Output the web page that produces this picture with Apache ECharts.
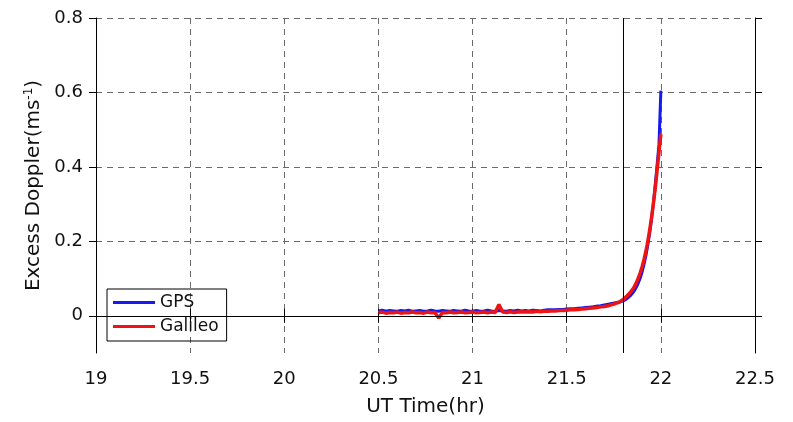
<!DOCTYPE html>
<html><head><meta charset="utf-8">
<script src="https://cdn.jsdelivr.net/npm/echarts@6/dist/echarts.min.js"></script>
<style>html,body{margin:0;padding:0;background:#fff}#c{width:793px;height:422px}</style>
</head><body><div id="c"></div>
<script>
// time (UT hours)
const timeHr = [
 20.50,20.52,20.54,20.56,20.58,20.60,20.62,20.64,20.66,20.68,
 20.70,20.72,20.74,20.76,20.78,20.80,20.82,20.84,20.86,20.88,
 20.90,20.92,20.94,20.96,20.98,21.00,21.02,21.04,21.06,21.08,
 21.10,21.12,21.14,21.16,21.18,21.20,21.22,21.24,21.26,21.28,
 21.30,21.32,21.34,21.36,21.38,21.40,
 21.42,21.44,21.46,21.48,21.50,21.52,21.54,21.56,21.58,21.60,
 21.62,21.64,21.66,21.68,21.70,
 21.72,21.73,21.74,21.75,21.76,21.77,21.78,21.79,21.80,21.81,
 21.82,21.83,21.84,21.85,21.86,21.87,21.88,21.89,21.90,21.91,
 21.92,21.93,21.94,21.95,21.96,21.97,21.98,21.99,22.00
];
const gpsDoppler = [
 0.013,0.015,0.012,0.014,0.013,0.012,0.014,0.013,0.015,0.012,
 0.013,0.014,0.012,0.013,0.015,0.013,0.012,0.014,0.013,0.012,
 0.014,0.013,0.012,0.015,0.013,0.012,0.014,0.012,0.013,0.015,
 0.013,0.012,0.014,0.013,0.012,0.014,0.013,0.015,0.013,0.014,
 0.013,0.015,0.014,0.013,0.015,0.016,
 0.016,0.016,0.017,0.017,0.018,0.019,0.019,0.020,0.021,0.022,
 0.023,0.024,0.026,0.027,0.029,
 0.031,0.032,0.033,0.034,0.035,0.036,0.037,0.039,0.040,0.043,
 0.046,0.050,0.055,0.061,0.068,0.077,0.088,0.101,0.117,0.137,
 0.160,0.188,0.220,0.258,0.300,0.350,0.405,0.460,0.605
];
const galileoDoppler = [
 0.008,0.010,0.007,0.009,0.008,0.010,0.007,0.009,0.008,0.010,
 0.008,0.009,0.007,0.010,0.008,0.009,-0.006,0.009,0.008,0.010,
 0.008,0.009,0.010,0.008,0.009,0.010,0.008,0.009,0.010,0.008,
 0.010,0.009,0.030,0.010,0.009,0.011,0.009,0.010,0.011,0.010,
 0.011,0.010,0.012,0.011,0.012,0.012,
 0.013,0.013,0.014,0.014,0.015,0.016,0.016,0.017,0.018,0.019,
 0.020,0.021,0.022,0.024,0.025,
 0.027,0.028,0.030,0.031,0.033,0.035,0.037,0.040,0.044,0.048,
 0.053,0.058,0.064,0.071,0.079,0.089,0.101,0.115,0.131,0.150,
 0.172,0.198,0.228,0.262,0.300,0.342,0.390,0.440,0.488
];
const xTicks = [19, 22.5, 0.5];        // min, max, interval
const yRange = [-0.1, 0.8];
const yTickValues = [0, 0.2, 0.4, 0.6, 0.8];
const refLines = { y: 0, x: 21.8 };

const font = '"DejaVu Sans", "Liberation Sans", Arial, sans-serif';
const pair = (xs, ys) => xs.map((x, i) => [x, ys[i]]);

const chart = echarts.init(document.getElementById('c'), null, {renderer: 'canvas'});
const gridDash = {color: '#6a6a6a', type: [6, 5], width: 1};
const tickStyle = {show: true, inside: false, length: 7, lineStyle: {color: '#000'}};
chart.setOption({
  animation: false,
  backgroundColor: '#fff',
  grid: {left: 96, right: 38, top: 18, bottom: 69},
  legend: {
    orient: 'vertical', left: 107, top: 289,
    borderColor: '#000', borderWidth: 1, padding: [5, 8, 6, 6],
    icon: 'rect', itemWidth: 42, itemHeight: 3, itemGap: 7,
    textStyle: {fontFamily: font, fontSize: 17, color: '#111'},
    data: ['GPS', 'Galileo']
  },
  xAxis: [{
    type: 'value', min: xTicks[0], max: xTicks[1], interval: xTicks[2],
    position: 'bottom',
    name: 'UT Time(hr)', nameLocation: 'middle', nameGap: 44,
    nameTextStyle: {fontFamily: font, fontSize: 20, color: '#111'},
    axisLine: {show: true, lineStyle: {color: '#000', width: 1}},
    axisTick: tickStyle,
    axisLabel: {fontFamily: font, fontSize: 18, color: '#111', margin: 17},
    splitLine: {show: true, lineStyle: gridDash}
  }, {
    type: 'value', min: xTicks[0], max: xTicks[1], interval: xTicks[2],
    position: 'top',
    axisLine: {show: true, lineStyle: {color: '#000', width: 1}},
    axisTick: tickStyle,
    axisLabel: {show: false}, splitLine: {show: false}
  }],
  yAxis: [{
    type: 'value', min: yRange[0], max: yRange[1],
    position: 'left',
    name: '{a|Excess Doppler(ms}{s|-1}{a|)}', nameLocation: 'middle', nameGap: 49,
    nameTextStyle: {
      rich: {
        a: {fontFamily: font, fontSize: 20, color: '#111'},
        s: {fontFamily: font, fontSize: 12, color: '#111', verticalAlign: 'top', padding: [0, 0, 9, 0]}
      }
    },
    axisLine: {show: true, lineStyle: {color: '#000', width: 1}},
    axisTick: Object.assign({}, tickStyle, {customValues: yTickValues}),
    axisLabel: {fontFamily: font, fontSize: 18, color: '#111', margin: 13, customValues: yTickValues},
    splitLine: {show: true, lineStyle: gridDash}
  }, {
    type: 'value', min: yRange[0], max: yRange[1],
    position: 'right',
    axisLine: {show: true, lineStyle: {color: '#000', width: 1}},
    axisTick: Object.assign({}, tickStyle, {customValues: yTickValues}),
    axisLabel: {show: false}, splitLine: {show: false}
  }],
  series: [{
    name: 'GPS', type: 'line', xAxisIndex: 0, yAxisIndex: 0,
    data: pair(timeHr, gpsDoppler),
    showSymbol: false, symbol: 'none',
    itemStyle: {color: '#1818f0'},
    lineStyle: {color: '#1818f0', width: 3},
    markLine: {
      silent: true, symbol: 'none', label: {show: false},
      lineStyle: {color: '#000', type: 'solid', width: 1},
      data: [{yAxis: refLines.y}, {xAxis: refLines.x}]
    },
    z: 3
  }, {
    name: 'Galileo', type: 'line', xAxisIndex: 0, yAxisIndex: 0,
    data: pair(timeHr, galileoDoppler),
    showSymbol: false, symbol: 'none',
    itemStyle: {color: '#ee1414'},
    lineStyle: {color: '#ee1414', width: 3.5},
    z: 4
  }]
});
</script></body></html>
